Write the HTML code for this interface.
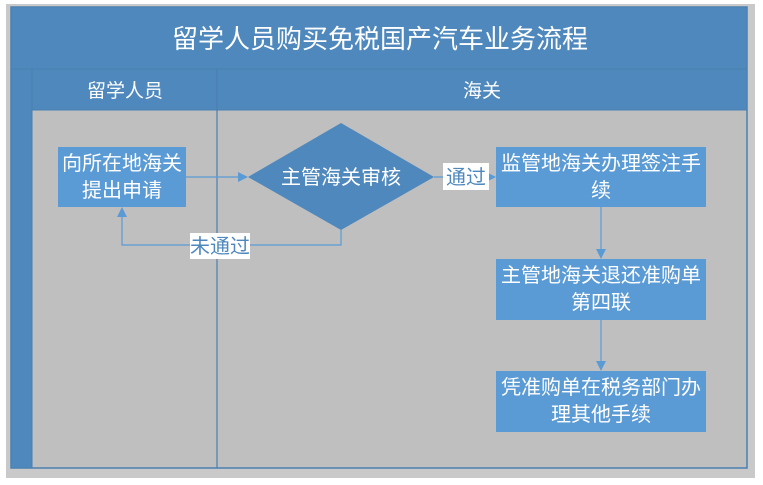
<!DOCTYPE html>
<html><head><meta charset="utf-8"><style>
body{margin:0;width:763px;height:485px;background:#fff;overflow:hidden;font-family:"Liberation Sans","Noto Sans CJK SC",sans-serif}
</style></head><body>
<svg width="763" height="485" xmlns="http://www.w3.org/2000/svg" style="position:absolute;left:0;top:0">
<defs>
<marker id="a" markerWidth="10" markerHeight="10" refX="9" refY="5" orient="auto" markerUnits="userSpaceOnUse"><path d="M0,0 L10,5 L0,10z" fill="#5b9bd5"/></marker>
</defs>
<rect x="6" y="4" width="749" height="474" fill="#c9c9c9"/>
<rect x="11" y="7" width="736" height="461" fill="#bfbfbf" stroke="#4a7fb0" stroke-width="1.5"/>
<rect x="11" y="7" width="736" height="62" fill="#4f88bd" stroke="#4a7fb0"/>
<rect x="11" y="69" width="21" height="399" fill="#4f88bd" stroke="#4a7fb0"/>
<rect x="32" y="69" width="715" height="41" fill="#4f88bd" stroke="#4a7fb0"/>
<line x1="217" y1="69" x2="217" y2="468" stroke="#4a7fb0" stroke-width="1.2"/>
<line x1="32" y1="110" x2="32" y2="468" stroke="#4a7fb0"/>
<text x="380" y="48" font-size="26" fill="#fff" text-anchor="middle">留学人员购买免税国产汽车业务流程</text>
<text x="125" y="97" font-size="19" fill="#fff" text-anchor="middle">留学人员</text>
<text x="482" y="97" font-size="19" fill="#fff" text-anchor="middle">海关</text>
<g fill="#5b9bd5">
<rect x="58" y="147" width="128" height="60"/>
<rect x="496" y="147" width="210" height="60"/>
<rect x="496" y="259" width="210" height="61"/>
<rect x="496" y="371" width="210" height="61"/>
</g>
<polygon points="248,177 341,123 434,177 341,230" fill="#4f88bd"/>
<g stroke="#5b9bd5" stroke-width="1.2" fill="none">
<line x1="186" y1="177" x2="247" y2="177" marker-end="url(#a)"/>
<line x1="434" y1="177" x2="495" y2="177" marker-end="url(#a)"/>
<line x1="601" y1="207" x2="601" y2="258" marker-end="url(#a)"/>
<line x1="601" y1="320" x2="601" y2="370" marker-end="url(#a)"/>
<polyline points="341,230 341,245 122,245 122,208" marker-end="url(#a)"/>
</g>
<rect x="443" y="163" width="46" height="27" fill="#fff"/>
<text x="466" y="184" font-size="20" fill="#4f88bd" text-anchor="middle">通过</text>
<rect x="190" y="233" width="60" height="26" fill="#fff"/>
<text x="220" y="253" font-size="20" fill="#4f88bd" text-anchor="middle">未通过</text>
<g fill="#fff" font-size="20" text-anchor="middle">
<text x="122" y="170">向所在地海关</text>
<text x="122" y="197">提出申请</text>
<text x="341" y="184">主管海关审核</text>
<text x="601" y="170">监管地海关办理签注手</text>
<text x="601" y="197">续</text>
<text x="601" y="282">主管地海关退还准购单</text>
<text x="601" y="309">第四联</text>
<text x="601" y="394">凭准购单在税务部门办</text>
<text x="601" y="421">理其他手续</text>
</g>
</svg>
</body></html>
